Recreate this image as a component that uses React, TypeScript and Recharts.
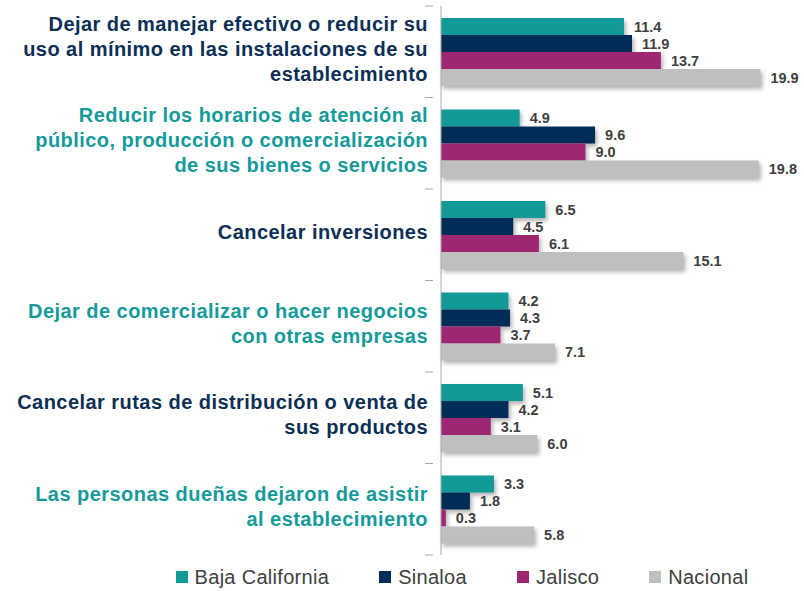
import { BarChart, Bar, XAxis, YAxis, LabelList, Legend } from "recharts";

const categories = [
  "Dejar de manejar efectivo o reducir su\nuso al mínimo en las instalaciones de su\nestablecimiento",
  "Reducir los horarios de atención al\npúblico, producción o comercialización\nde sus bienes o servicios",
  "Cancelar inversiones",
  "Dejar de comercializar o hacer negocios\ncon otras empresas",
  "Cancelar rutas de distribución o venta de\nsus productos",
  "Las personas dueñas dejaron de asistir\nal establecimiento",
];

const bajaCalifornia = [11.4, 4.9, 6.5, 4.2, 5.1, 3.3];
const sinaloa = [11.9, 9.6, 4.5, 4.3, 4.2, 1.8];
const jalisco = [13.7, 9.0, 6.1, 3.7, 3.1, 0.3];
const nacional = [19.9, 19.8, 15.1, 7.1, 6.0, 5.8];

const SERIES = [
  { key: "bc", name: "Baja California", color: "#129a99" },
  { key: "sin", name: "Sinaloa", color: "#002d57" },
  { key: "jal", name: "Jalisco", color: "#9e2672" },
  { key: "nac", name: "Nacional", color: "#bfbfbf" },
];

// label colours alternate navy / teal
const LABEL_COLORS = ["#0c2f55", "#159a9a"];

const data = categories.map((name, i) => ({
  name,
  bc: bajaCalifornia[i],
  sin: sinaloa[i],
  jal: jalisco[i],
  nac: nacional[i],
}));

const W = 804;
const H = 591;
const MARGIN = { top: 6, right: 42, left: 0, bottom: 0 };
const LEGEND_H = 36;
const AXIS_W = 441;
const PLOT_H = H - MARGIN.top - MARGIN.bottom - LEGEND_H;
const BAND = PLOT_H / categories.length;

function CategoryTick(props: any) {
  const { x, y, payload, index } = props;
  const lines = String(payload.value).split("\n");
  const lineH = 25;
  const startY = y - ((lines.length - 1) * lineH) / 2 + 4;
  const tx = x - 5;
  return (
    <g>
      <line x1={x - 8} x2={x} y1={y - BAND / 2} y2={y - BAND / 2} stroke="#a6a6a6" />
      {index === categories.length - 1 && (
        <line x1={x - 8} x2={x} y1={y + BAND / 2} y2={y + BAND / 2} stroke="#a6a6a6" />
      )}
      <text
        x={tx}
        y={startY}
        textAnchor="end"
        fill={LABEL_COLORS[index % 2]}
        style={{
          fontFamily: "'Liberation Sans', Arial, sans-serif",
          fontWeight: 700,
          fontSize: 20,
          letterSpacing: 0.45,
        }}
      >
        {lines.map((l, i) => (
          <tspan key={i} x={tx} y={startY + i * lineH}>
            {l}
          </tspan>
        ))}
      </text>
    </g>
  );
}

function ShadowBar(props: any) {
  const { x, y, width, height, fill } = props;
  if (!width || width <= 0) return null;
  return (
    <rect
      x={x}
      y={y}
      width={width}
      height={height}
      fill={fill}
      style={{ filter: "drop-shadow(2px 3px 2px rgba(0,0,0,0.3))" }}
    />
  );
}

function renderLegend() {
  return (
    <div
      style={{
        display: "flex",
        justifyContent: "center",
        gap: 50,
        paddingLeft: 162,
        paddingTop: 8,
        boxSizing: "border-box",
        fontFamily: "'Liberation Sans', Arial, sans-serif",
        fontSize: 20,
        letterSpacing: 0.3,
        color: "#404040",
        height: LEGEND_H,
        alignItems: "center",
      }}
    >
      {SERIES.map((s) => (
        <div key={s.key} style={{ display: "flex", alignItems: "center" }}>
          <span
            style={{
              width: 12,
              height: 12,
              background: s.color,
              display: "inline-block",
              marginRight: 7,
            }}
          />
          <span>{s.name}</span>
        </div>
      ))}
    </div>
  );
}

export default function App() {
  return (
    <div style={{ position: "absolute", left: 0, top: 0, background: "#fff" }}>
      <BarChart
        width={W}
        height={H}
        data={data}
        layout="vertical"
        margin={MARGIN}
        barCategoryGap={12}
        barGap={0}
      >
        <XAxis type="number" domain={[0, 20]} hide />
        <YAxis
          type="category"
          dataKey="name"
          width={AXIS_W}
          axisLine={{ stroke: "#a6a6a6" }}
          tickLine={false}
          tick={<CategoryTick />}
          interval={0}
        />
        <Legend
          verticalAlign="bottom"
          height={LEGEND_H}
          content={renderLegend}
          wrapperStyle={{ height: LEGEND_H }}
        />
        {SERIES.map((s) => (
          <Bar
            key={s.key}
            dataKey={s.key}
            name={s.name}
            fill={s.color}
            shape={<ShadowBar />}
            isAnimationActive={false}
          >
            <LabelList
              dataKey={s.key}
              position="right"
              offset={10}
              formatter={(v: any) => Number(v).toFixed(1)}
              style={{
                fontFamily: "'Liberation Sans', Arial, sans-serif",
                fontWeight: 700,
                fontSize: 14.5,
                fill: "#404040",
              }}
            />
          </Bar>
        ))}
      </BarChart>
    </div>
  );
}
